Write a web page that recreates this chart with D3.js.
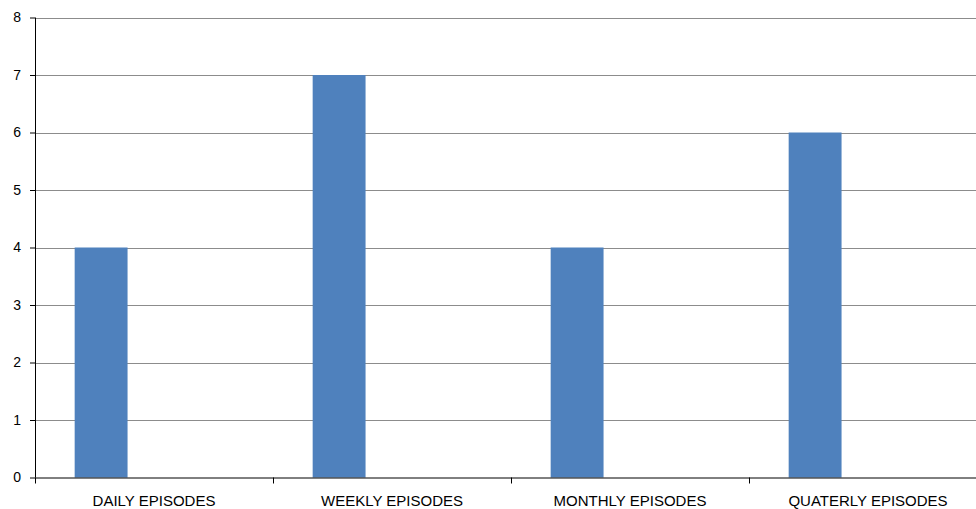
<!DOCTYPE html>
<html><head><meta charset="utf-8">
<script src="https://cdn.jsdelivr.net/npm/d3@7"></script>
<style>body{margin:0;background:#fff}svg{display:block}text{font-family:"Liberation Sans",Arial,sans-serif}</style>
</head><body><svg id="c" width="976" height="509"></svg>
<script>
const categories = ["DAILY EPISODES","WEEKLY EPISODES","MONTHLY EPISODES","QUATERLY EPISODES"];
const seriesNames = ["Series1","Series2","Series3"];
const series1 = [4,7,4,6];
const yTicks = [0,1,2,3,4,5,6,7,8];

(function(){
const svg = d3.select("#c");
const mLeft = 35, mRight = 987, mTop = 17.5, mBottom = 477.5;
const x = d3.scaleBand().domain(categories).range([mLeft,mRight]).padding(0);
const xs = d3.scaleBand().domain(seriesNames).range([0,x.bandwidth()]).paddingInner(0).paddingOuter(0.75);
const y = d3.scaleLinear().domain([0,8]).range([mBottom,mTop]);

// gridlines
svg.append("g").selectAll("line").data(yTicks.filter(d=>d>0)).join("line")
  .attr("x1",mLeft).attr("x2",976).attr("y1",d=>Math.round(y(d))+0.5).attr("y2",d=>Math.round(y(d))+0.5)
  .attr("stroke","#8c8c8c").attr("stroke-width",1);

// bars
svg.append("g").selectAll("rect").data(series1).join("rect")
  .attr("x",(d,i)=>x(categories[i])+xs("Series1"))
  .attr("width",xs.bandwidth())
  .attr("y",d=>y(d)).attr("height",d=>y(0)-y(d))
  .attr("fill","#4f81bd");

// y axis
const ya = svg.append("g").attr("transform",`translate(${mLeft},0)`)
  .call(d3.axisLeft(y).tickValues(yTicks).tickSize(5).tickPadding(9).tickFormat(d3.format("d")));
ya.select(".domain").attr("stroke","#000").attr("d",`M0.5,${mTop}V${mBottom}`);
ya.selectAll(".tick line").attr("stroke","#000");
ya.selectAll(".tick text").attr("font-size",14).attr("fill","#000").attr("font-family","Liberation Sans, Arial, sans-serif");

// x axis
const xa = svg.append("g").attr("transform",`translate(0,${Math.round(mBottom)-0.5})`)
  .call(d3.axisBottom(x).tickSize(0).tickPadding(0));
xa.select(".domain").attr("stroke","#000").attr("d",`M${mLeft},0.5H976`);
xa.selectAll(".tick text").attr("dy",null).attr("y",28)
  .attr("font-size",15).attr("fill","#000").attr("font-family","Liberation Sans, Arial, sans-serif");
// category boundary ticks
const bounds = categories.map(c=>x(c)).concat([mRight]);
svg.append("g").selectAll("line").data(bounds).join("line")
  .attr("x1",d=>Math.round(d)+0.5).attr("x2",d=>Math.round(d)+0.5)
  .attr("y1",mBottom).attr("y2",mBottom+6).attr("stroke","#000");
})();
</script></body></html>
